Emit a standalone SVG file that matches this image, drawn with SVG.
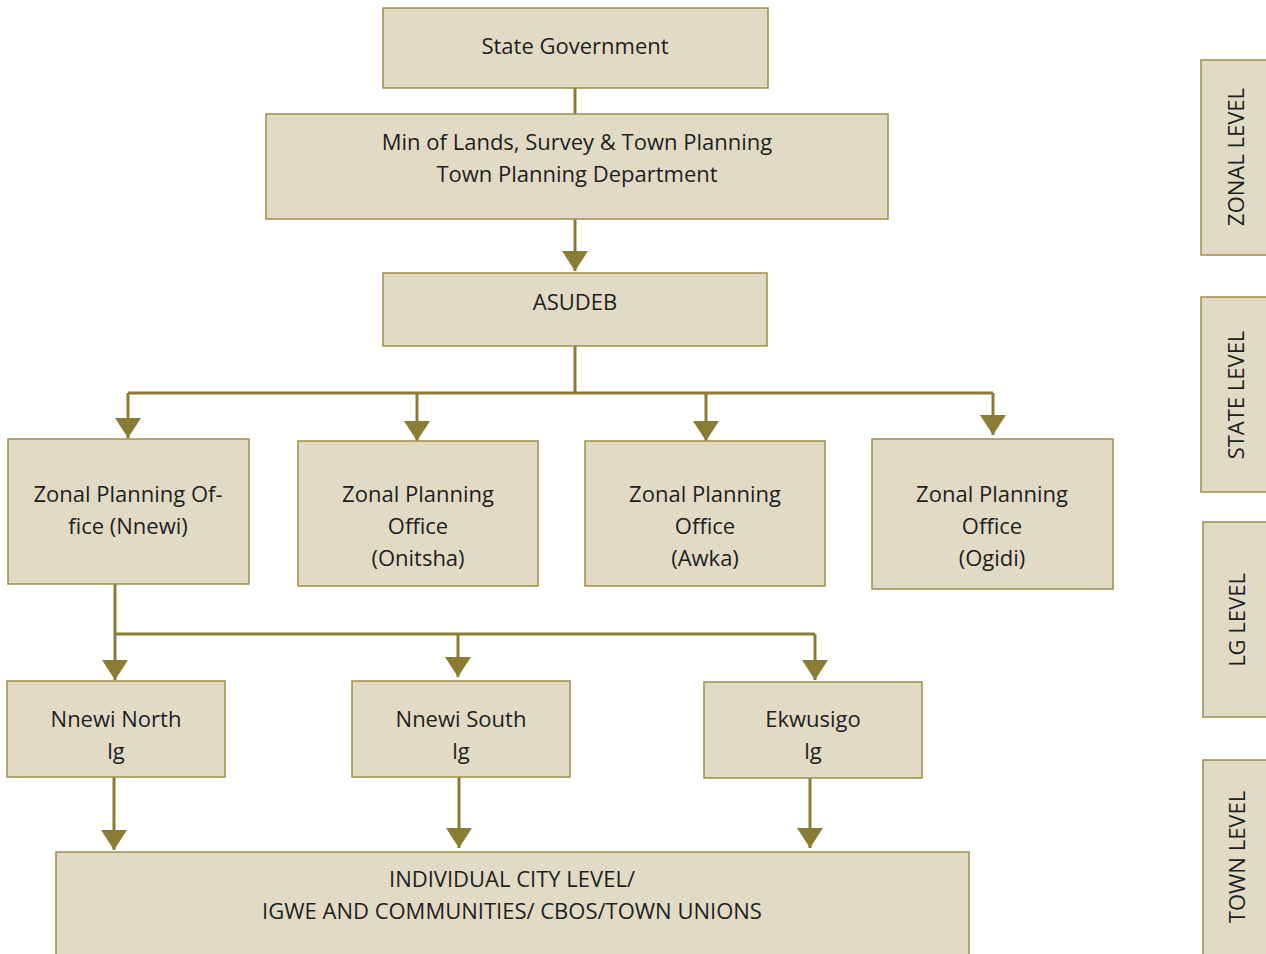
<svg xmlns="http://www.w3.org/2000/svg" width="1266" height="954" viewBox="0 0 1266 954">
<style>
.box{fill:#e1dbc6;stroke:#9c8f4a;stroke-width:1.5}
.t{font-family:"Open Sans","Noto Sans","Liberation Sans",sans-serif;font-size:22px;fill:#1e1e1e;text-anchor:middle}
.c{fill:none;stroke:#8b7c33;stroke-width:3}
</style>
<defs>
<marker id="a" markerUnits="userSpaceOnUse" markerWidth="20" markerHeight="26" refX="20" refY="13" orient="auto" viewBox="0 0 20 26">
<path d="M0,0 L20,13 L0,26 Z" fill="#8b7c33"/>
</marker>
</defs>
<g id="connectors">
<path class="c" d="M575,88 V114"/>
<path class="c" d="M575,219 V271" marker-end="url(#a)"/>
<path class="c" d="M575,346 V393 M128,393 H993"/>
<path class="c" d="M128,393 V438" marker-end="url(#a)"/>
<path class="c" d="M417,393 V441" marker-end="url(#a)"/>
<path class="c" d="M706,393 V441" marker-end="url(#a)"/>
<path class="c" d="M993,393 V435" marker-end="url(#a)"/>
<path class="c" d="M115,584 V634 M115,634 H815"/>
<path class="c" d="M115,634 V680" marker-end="url(#a)"/>
<path class="c" d="M458,634 V677" marker-end="url(#a)"/>
<path class="c" d="M815,634 V680" marker-end="url(#a)"/>
<path class="c" d="M114,777 V850" marker-end="url(#a)"/>
<path class="c" d="M459,777 V848" marker-end="url(#a)"/>
<path class="c" d="M810,778 V848" marker-end="url(#a)"/>
</g>
<g id="state-gov"><rect class="box" x="383" y="8" width="385" height="80"/><text class="t" x="575" y="54">State Government</text></g>
<g id="min-lands"><rect class="box" x="266" y="114" width="622" height="105"/><text class="t" x="577" y="150">Min of Lands, Survey &amp; Town Planning</text><text class="t" x="577" y="182">Town Planning Department</text></g>
<g id="asudeb"><rect class="box" x="383" y="273" width="384" height="73"/><text class="t" x="575" y="310">ASUDEB</text></g>
<g id="zpo-nnewi"><rect class="box" x="8" y="439" width="241" height="145"/><text class="t" x="128" y="502">Zonal Planning Of-</text><text class="t" x="128" y="534">fice (Nnewi)</text></g>
<g id="zpo-onitsha"><rect class="box" x="298" y="441" width="240" height="145"/><text class="t" x="418" y="502">Zonal Planning</text><text class="t" x="418" y="534">Office</text><text class="t" x="418" y="566">(Onitsha)</text></g>
<g id="zpo-awka"><rect class="box" x="585" y="441" width="240" height="145"/><text class="t" x="705" y="502">Zonal Planning</text><text class="t" x="705" y="534">Office</text><text class="t" x="705" y="566">(Awka)</text></g>
<g id="zpo-ogidi"><rect class="box" x="872" y="439" width="241" height="150"/><text class="t" x="992" y="502">Zonal Planning</text><text class="t" x="992" y="534">Office</text><text class="t" x="992" y="566">(Ogidi)</text></g>
<g id="nnewi-north"><rect class="box" x="7" y="681" width="218" height="96"/><text class="t" x="116" y="727">Nnewi North</text><text class="t" x="116" y="759">lg</text></g>
<g id="nnewi-south"><rect class="box" x="352" y="681" width="218" height="96"/><text class="t" x="461" y="727">Nnewi South</text><text class="t" x="461" y="759">lg</text></g>
<g id="ekwusigo"><rect class="box" x="704" y="682" width="218" height="96"/><text class="t" x="813" y="727">Ekwusigo</text><text class="t" x="813" y="759">lg</text></g>
<g id="city-level"><rect class="box" x="56" y="852" width="913" height="110"/><text class="t" x="512" y="887">INDIVIDUAL CITY LEVEL/</text><text class="t" x="512" y="919">IGWE AND COMMUNITIES/ CBOS/TOWN UNIONS</text></g>
<g id="zonal-level"><rect class="box" x="1201" y="60" width="80" height="195"/><text class="t" transform="translate(1244 157) rotate(-90)">ZONAL LEVEL</text></g>
<g id="state-level"><rect class="box" x="1201" y="297" width="80" height="195"/><text class="t" transform="translate(1244 395) rotate(-90)">STATE LEVEL</text></g>
<g id="lg-level"><rect class="box" x="1203" y="522" width="80" height="195"/><text class="t" transform="translate(1245 620) rotate(-90)">LG LEVEL</text></g>
<g id="town-level"><rect class="box" x="1203" y="760" width="80" height="210"/><text class="t" transform="translate(1245 857) rotate(-90)">TOWN LEVEL</text></g>
</svg>
